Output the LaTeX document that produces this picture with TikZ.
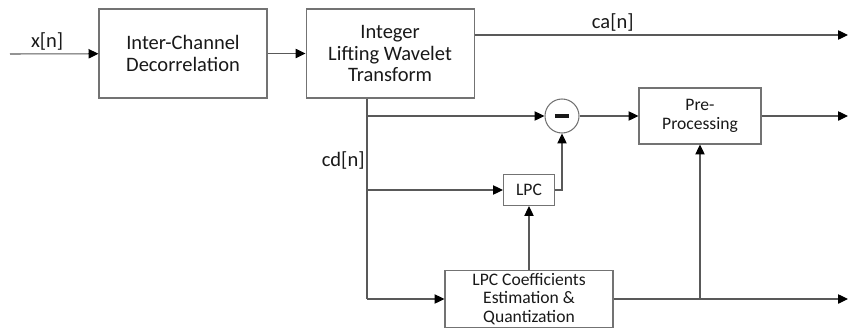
\documentclass[tikz,border=0pt]{standalone}
\usepackage{fontspec}
\setmainfont{Carlito}
\usetikzlibrary{arrows.meta, positioning, calc}
\tikzset{
  block/.style={draw=black!55, line width=0.9pt, rectangle, align=center, text=black!90,
    font=\fontsize{17.5}{18.5}\selectfont, minimum width=5.04cm, minimum height=2.67cm, inner sep=2pt},
  smallblock/.style={block, font=\fontsize{15}{16}\selectfont},
  diff/.style={draw=black!55, line width=0.9pt, circle, minimum size=1.02cm, inner sep=0pt},
  signal/.style={font=\fontsize{17.5}{18.5}\selectfont, text=black!90, inner sep=3pt},
  flow/.style={-{Triangle[length=8.5pt,width=8pt,color=black]}, line width=0.9pt, black!65},
  wire/.style={line width=0.9pt, black!65},
}

\begin{document}
\begin{tikzpicture}[x=0.03cm, y=-0.03cm, node distance=1.14cm]
  \useasboundingbox (0,0) rectangle (848,331);

  % top row
  \node[block] (icd) at (183,53.5) {Inter-Channel\\Decorrelation};
  \node[block, right=of icd] (ilwt) {Integer\\Lifting Wavelet\\Transform};

  % detail path
  \node[diff] (sub) at (562,116) {\textcolor{black!90}{\rule{12pt}{3.6pt}}};
  \node[smallblock, minimum width=3.66cm, minimum height=1.68cm] (pre) at (700,116) {Pre-\\Processing};
  \node[smallblock, minimum width=1.53cm, minimum height=0.93cm] (lpc) at (529,190) {LPC};
  \node[smallblock, minimum width=5.04cm, minimum height=1.68cm] (est) at (529,299) {LPC Coefficients\\Estimation \&\\Quantization};

  \coordinate (in) at (10,54);
  \coordinate (c1) at (367,116);
  \coordinate (c2) at (367,190);
  \coordinate (c3) at (367,299);
  \coordinate (out1) at (848,35);
  \coordinate (out2) at (848,116);
  \coordinate (out3) at (848,299);

  \draw[flow] (in) -- node[signal, above, pos=0.42] (xn) {x[n]} (icd);
  \draw[flow] (icd) -- (ilwt);
  \draw[flow] (ilwt.east |- out1) -- node[signal, above, pos=0.37] (ca) {ca[n]} (out1);

  \draw[wire] (ilwt.south -| c1) -- (c3);
  \node[signal, anchor=east, inner sep=1pt] (cd) at (366,160) {cd[n]};
  \draw[flow] (c1) -- (sub);
  \draw[flow] (c2) -- (lpc);
  \draw[flow] (c3) -- (est);

  \draw[flow] (lpc.east) -| (sub.south);
  \draw[flow] (est) -- (lpc);
  \draw[flow] (sub) -- (pre);
  \draw[flow] (pre) -- (out2);
  \draw[flow] (est.east) -- (out3);
  \draw[flow] (pre |- est.east) -- (pre.south);
\end{tikzpicture}
\end{document}
